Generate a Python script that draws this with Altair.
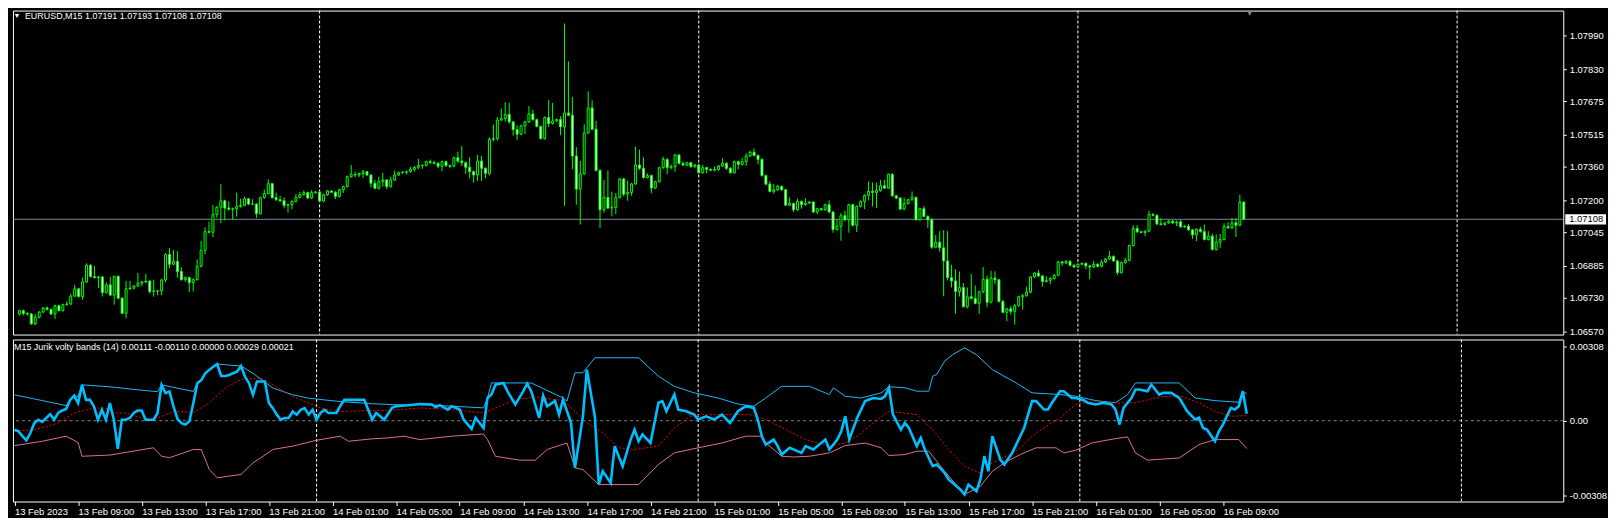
import altair as alt
import pandas as pd

# ---------------- data ----------------
SYMBOL = "EURUSD,M15"
INDICATOR = "M15 Jurik volty bands (14)"
INDICATOR_VALUES = "0.00111 -0.00110 0.00000 0.00029 0.00021"

# prices in points above 1.00000 (1 point = 0.00001)
first_open_pts = 6653
close_pts = [
    6669, 6656, 6653, 6605, 6637, 6662, 6682, 6675, 6653, 6693,
    6669, 6698, 6701, 6739, 6774, 6737, 6807, 6887, 6833, 6828,
    6831, 6756, 6793, 6744, 6834, 6729, 6656, 6774, 6777, 6788,
    6801, 6807, 6811, 6761, 6764, 6764, 6817, 6939, 6892, 6906,
    6857, 6818, 6828, 6804, 6818, 6882, 6959, 7049, 7046, 7131,
    7166, 7197, 7162, 7156, 7159, 7169, 7175, 7207, 7181, 7181,
    7135, 7212, 7232, 7279, 7212, 7202, 7197, 7175, 7178, 7194,
    7213, 7226, 7236, 7210, 7236, 7239, 7196, 7226, 7244, 7238,
    7218, 7250, 7265, 7313, 7324, 7321, 7328, 7337, 7321, 7281,
    7257, 7289, 7297, 7265, 7297, 7321, 7332, 7334, 7337, 7348,
    7358, 7366, 7367, 7385, 7380, 7377, 7363, 7385, 7366, 7363,
    7404, 7388, 7380, 7358, 7337, 7321, 7388, 7353, 7329, 7492,
    7496, 7585, 7592, 7612, 7576, 7539, 7517, 7557, 7576, 7614,
    7587, 7554, 7496, 7597, 7568, 7581, 7587, 7552, 7619, 7608,
    7412, 7253, 7326, 7523, 7643, 7541, 7343, 7154, 7213, 7162,
    7165, 7213, 7302, 7229, 7237, 7278, 7369, 7353, 7309, 7318,
    7258, 7289, 7356, 7396, 7356, 7361, 7417, 7377, 7369, 7380,
    7361, 7369, 7332, 7356, 7348, 7344, 7347, 7364, 7377, 7353,
    7332, 7385, 7372, 7385, 7412, 7430, 7415, 7396, 7318, 7277,
    7242, 7250, 7266, 7250, 7176, 7184, 7154, 7194, 7178, 7186,
    7191, 7143, 7159, 7154, 7178, 7143, 7059, 7075, 7125, 7106,
    7178, 7079, 7170, 7194, 7223, 7242, 7237, 7246, 7269, 7258,
    7324, 7221, 7210, 7157, 7184, 7202, 7213, 7106, 7159, 7122,
    7106, 6974, 6998, 6971, 6908, 6828, 6812, 6761, 6780, 6688,
    6736, 6728, 6704, 6760, 6820, 6709, 6826, 6817, 6713, 6661,
    6678, 6666, 6693, 6736, 6741, 6758, 6831, 6850, 6836, 6809,
    6815, 6823, 6839, 6903, 6898, 6906, 6887, 6879, 6892, 6896,
    6884, 6879, 6892, 6882, 6903, 6917, 6930, 6908, 6852, 6900,
    6911, 6982, 7064, 7048, 7045, 7051, 7131, 7127, 7086, 7083,
    7091, 7099, 7091, 7096, 7072, 7075, 7057, 7033, 7060, 7049,
    7011, 7027, 6963, 6998, 7011, 7073, 7067, 7091, 7080, 7191, 7108,
]
# wick length above / below the body, in points
wick_up_pts = [
    5, 5, 5, 5, 15, 5, 5, 8, 5, 5,
    5, 5, 13, 10, 18, 5, 21, 10, 5, 50,
    5, 5, 11, 38, 3, 4, 5, 38, 35, 5,
    49, 5, 35, 5, 54, 5, 5, 6, 30, 54,
    49, 21, 5, 5, 5, 33, 45, 21, 48, 45,
    5, 80, 5, 32, 5, 67, 32, 10, 2, 24,
    5, 5, 19, 21, 4, 24, 18, 16, 5, 5,
    16, 13, 11, 5, 13, 5, 5, 5, 5, 5,
    5, 5, 5, 5, 45, 13, 5, 8, 3, 5,
    16, 24, 35, 5, 16, 21, 5, 5, 5, 13,
    5, 32, 5, 5, 10, 10, 5, 5, 5, 5,
    5, 29, 72, 5, 48, 5, 29, 24, 5, 10,
    67, 15, 48, 59, 56, 5, 21, 5, 5, 38,
    21, 5, 5, 5, 84, 86, 5, 16, 430, 248,
    88, 43, 62, 41, 80, 37, 40, 5, 84, 129,
    76, 21, 5, 5, 57, 5, 88, 74, 53, 11,
    5, 5, 5, 13, 5, 11, 5, 5, 8, 5,
    5, 5, 5, 13, 5, 5, 16, 5, 24, 5,
    5, 5, 5, 19, 13, 8, 18, 5, 5, 5,
    14, 27, 8, 5, 5, 29, 5, 13, 5, 24,
    5, 5, 5, 5, 5, 21, 5, 32, 13, 24,
    5, 5, 5, 5, 5, 48, 43, 38, 29, 29,
    5, 5, 5, 5, 29, 5, 29, 5, 5, 13,
    5, 8, 34, 53, 85, 144, 61, 56, 77, 22,
    45, 110, 62, 5, 59, 18, 34, 32, 5, 8,
    5, 14, 8, 5, 8, 26, 5, 5, 14, 5,
    19, 8, 5, 5, 5, 6, 5, 5, 5, 5,
    5, 5, 16, 5, 11, 5, 26, 5, 5, 5,
    13, 5, 16, 16, 5, 5, 19, 8, 5, 27,
    5, 5, 5, 6, 10, 5, 11, 5, 5, 11,
    34, 24, 13, 37, 27, 16, 21, 24, 24, 35, 2,
]
wick_dn_pts = [
    8, 10, 8, 3, 5, 5, 5, 5, 5, 24,
    5, 5, 5, 5, 5, 5, 16, 5, 5, 5,
    50, 19, 5, 5, 46, 5, 3, 24, 5, 5,
    5, 15, 5, 10, 25, 21, 21, 11, 19, 5,
    29, 5, 10, 45, 43, 5, 5, 19, 5, 24,
    16, 76, 60, 5, 48, 38, 5, 5, 5, 5,
    21, 5, 5, 5, 5, 5, 5, 14, 35, 21,
    5, 5, 5, 5, 5, 5, 5, 5, 5, 3,
    13, 5, 16, 5, 5, 10, 10, 22, 5, 21,
    5, 5, 24, 13, 5, 5, 5, 5, 10, 5,
    10, 10, 16, 5, 5, 5, 10, 24, 5, 10,
    5, 10, 16, 32, 32, 37, 29, 60, 24, 10,
    10, 10, 5, 15, 10, 29, 29, 5, 40, 5,
    5, 5, 5, 5, 16, 5, 5, 40, 379, 5,
    64, 75, 170, 5, 5, 5, 5, 88, 14, 5,
    40, 32, 5, 11, 32, 16, 5, 8, 6, 5,
    24, 5, 5, 5, 32, 8, 24, 5, 5, 5,
    5, 5, 5, 5, 19, 5, 5, 5, 5, 8,
    5, 5, 24, 5, 21, 5, 5, 24, 5, 6,
    5, 11, 5, 5, 5, 5, 11, 5, 19, 5,
    5, 5, 10, 5, 5, 5, 16, 5, 70, 8,
    62, 5, 32, 5, 37, 24, 67, 75, 5, 5,
    5, 5, 5, 5, 5, 5, 5, 5, 5, 5,
    40, 8, 5, 19, 170, 13, 32, 106, 24, 3,
    8, 5, 5, 51, 8, 24, 5, 21, 5, 5,
    43, 16, 64, 5, 61, 5, 5, 5, 5, 24,
    5, 19, 5, 5, 14, 5, 5, 5, 5, 5,
    16, 59, 5, 5, 5, 5, 5, 5, 11, 5,
    5, 5, 5, 5, 5, 19, 5, 5, 5, 5,
    5, 5, 5, 16, 5, 5, 5, 19, 30, 5,
    5, 5, 5, 5, 29, 5, 5, 5, 57, 5, 0,
]

# indicator buffers: (bar index, value in units of 0.00001)
main_pts = [
    (0, -37), (1, -44), (2, -64), (3, -81), (4, -51), (5, -10), (6, 4), (7, -5), (8, 11), (9, 27),
    (10, 4), (11, 32), (12, 42), (13, 48), (14, 86), (15, 103), (16, 73), (17, 148), (18, 86), (19, 86),
    (20, 59), (21, 4), (22, 45), (23, 4), (24, 73), (25, 4), (26, -116), (27, 4), (28, 4), (29, 11),
    (30, 32), (31, 42), (32, 42), (33, 4), (34, 4), (35, 4), (36, 32), (37, 148), (38, 114), (39, 121),
    (40, 59), (41, 8), (42, -10), (43, -16), (44, -2), (45, 73), (46, 155), (47, 168), (48, 196), (49, 210),
    (50, 223), (51, 234), (52, 185), (53, 185), (54, 189), (55, 196), (56, 203), (57, 226), (58, 182), (59, 155),
    (60, 107), (61, 162), (62, 162), (63, 162), (64, 73), (65, 52), (66, 25), (67, 4), (68, 11), (69, 11),
    (70, 38), (71, 25), (72, 45), (73, 52), (74, 25), (75, 45), (76, 4), (77, 32), (78, 45), (79, 32),
    (80, 32), (81, 32), (82, 62), (83, 86), (84, 86), (85, 86), (86, 86), (87, 86), (88, 86), (89, 45),
    (90, 4), (91, 32), (92, 18), (93, 4), (95, 53), (96, 60), (99, 64), (102, 69), (105, 67), (106, 56),
    (107, 64), (109, 46), (110, 60), (112, 46), (113, 5), (115, -34), (116, 12), (118, -30), (119, 94), (120, 108),
    (121, 149), (123, 156), (124, 122), (126, 67), (128, 122), (129, 153), (130, 122), (132, 12), (133, 104), (134, 60),
    (136, 81), (137, 25), (138, 87), (140, -9), (141, -195), (143, 18), (144, 211), (146, 18), (147, -264), (148, -209),
    (150, -257), (151, -105), (153, -188), (155, -78), (156, -37), (157, -85), (158, -57), (160, -92), (162, 74), (163, 81),
    (164, 39), (166, 108), (167, 46), (169, 39), (171, 25), (172, 5), (174, 18), (176, 5), (178, 25), (180, -9),
    (182, 39), (184, 60), (186, 53), (187, 5), (188, -64), (189, -99), (191, -78), (192, -105), (193, -140), (195, -112),
    (198, -133), (199, -105), (201, -119), (202, -105), (204, -78), (205, -119), (207, -78), (208, -44), (209, 18), (210, -78),
    (212, 12), (214, 81), (216, 94), (218, 90), (219, 101), (220, 136), (221, 25), (223, -37), (224, -9), (225, -30),
    (227, -105), (228, -71), (229, -119), (231, -188), (232, -181), (234, -216), (235, -243), (236, -257), (238, -285), (239, -305),
    (240, -264), (242, -292), (243, -243), (244, -147), (245, -209), (246, -64), (248, -161), (249, -181), (251, -133), (253, -64),
    (254, -30), (256, 81), (257, 81), (259, 46), (260, 46), (261, 74), (263, 122), (264, 122), (266, 94), (267, 94),
    (269, 85), (270, 74), (272, 67), (274, 74), (276, 67), (277, 46), (278, -16), (279, 53), (281, 94), (282, 129),
    (283, 129), (285, 122), (286, 149), (288, 108), (289, 115), (291, 115), (293, 94), (295, 39), (297, 5), (298, 12),
    (299, -30), (300, -37), (302, -85), (303, -44), (304, -16), (306, 53), (307, 46), (308, 60), (309, 122), (310, 29),
]
upper_pts = [
    (0, 107), (12, 66), (13, 62), (14, 86), (15, 103), (16, 100), (17, 148), (24, 140), (32, 126), (36, 120),
    (37, 148), (45, 121), (46, 155), (47, 168), (48, 196), (49, 210), (50, 223), (51, 234), (57, 226), (60, 196),
    (65, 135), (70, 107), (74, 93), (82, 79), (90, 70), (99, 64), (102, 67), (118, 53), (119, 94), (120, 156),
    (130, 156), (138, 94), (139, 81), (141, 198), (143, 198), (146, 260), (157, 260), (162, 184), (166, 142), (171, 115),
    (177, 94), (182, 69), (186, 60), (189, 94), (193, 142), (200, 142), (205, 108), (206, 136), (209, 101), (213, 94),
    (218, 115), (220, 140), (224, 136), (227, 122), (230, 122), (231, 184), (232, 191), (234, 246), (236, 273), (239, 301),
    (242, 273), (246, 211), (252, 156), (256, 115), (263, 108), (267, 101), (272, 83), (277, 74), (280, 108), (282, 156),
    (293, 156), (297, 94), (302, 83), (308, 76), (309, 122), (310, 111),
]
lower_pts = [
    (0, -103), (7, -85), (13, -64), (16, -90), (17, -147), (24, -142), (35, -112), (37, -147), (39, -153), (45, -119),
    (47, -119), (49, -201), (51, -236), (57, -222), (60, -174), (62, -153), (65, -119), (70, -105), (76, -81), (82, -64),
    (84, -85), (90, -75), (94, -71), (98, -64), (102, -78), (110, -64), (118, -55), (119, -78), (121, -147), (127, -163),
    (131, -163), (134, -119), (139, -92), (141, -195), (143, -202), (147, -264), (157, -264), (162, -181), (166, -133), (172, -112),
    (178, -92), (184, -64), (188, -64), (189, -92), (193, -147), (196, -150), (200, -147), (205, -133), (209, -103), (214, -92),
    (218, -112), (220, -144), (224, -140), (227, -126), (230, -126), (231, -147), (234, -209), (239, -305), (243, -271), (246, -209),
    (249, -174), (253, -140), (257, -112), (262, -112), (264, -133), (267, -122), (271, -92), (277, -74), (280, -67), (282, -133),
    (285, -163), (293, -154), (298, -99), (302, -78), (308, -78), (310, -115),
]
signal_pts = [
    (0, -44), (5, -37), (11, -10), (15, 32), (20, 52), (23, 52), (25, 32), (28, 32), (32, 11), (35, 4),
    (40, 38), (45, 34), (49, 73), (53, 134), (57, 171), (62, 175), (65, 148), (70, 100), (74, 73), (78, 48),
    (82, 38), (90, 42), (94, 42), (102, 53), (110, 46), (118, 32), (126, 87), (131, 98), (138, 83), (141, 39),
    (144, -9), (148, -50), (152, -112), (156, -119), (162, -105), (166, -30), (170, 18), (173, 25), (180, 25), (185, 25),
    (189, 5), (194, -37), (199, -78), (205, -105), (209, -92), (212, -64), (216, -9), (220, 39), (227, 25), (231, -37),
    (235, -119), (239, -188), (243, -216), (246, -174), (252, -126), (257, -50), (263, 12), (267, 67), (271, 81), (277, 74),
    (282, 74), (288, 98), (293, 104), (298, 74), (302, 39), (306, 18), (310, 21),
]

time_labels = ["13 Feb 2023", "13 Feb 09:00", "13 Feb 13:00", "13 Feb 17:00", "13 Feb 21:00",
               "14 Feb 01:00", "14 Feb 05:00", "14 Feb 09:00", "14 Feb 13:00", "14 Feb 17:00",
               "14 Feb 21:00", "15 Feb 01:00", "15 Feb 05:00", "15 Feb 09:00", "15 Feb 13:00",
               "15 Feb 17:00", "15 Feb 21:00", "16 Feb 01:00", "16 Feb 05:00", "16 Feb 09:00"]
time_label_bars = [0, 16, 32, 48, 64, 80, 96, 112, 128, 144, 160, 176, 192, 208, 224, 240, 256, 272, 288, 304]
day_sep_bars = [76, 172, 268, 364]
price_ticks = [1.07990, 1.07830, 1.07675, 1.07515, 1.07360, 1.07200, 1.07045, 1.06885, 1.06730, 1.06570]
ind_ticks = [308, 0, -308]
shift_marker_bar = 311.5

# ---------------- build tables ----------------
opens = [first_open_pts] + close_pts[:-1]
rows = []
for i, (o, c, u, d) in enumerate(zip(opens, close_pts, wick_up_pts, wick_dn_pts)):
    rows.append(dict(idx=i, open=1 + o / 1e5, close=1 + c / 1e5,
                     high=1 + (max(o, c) + u) / 1e5, low=1 + (min(o, c) - d) / 1e5,
                     bull=c >= o))
candles = pd.DataFrame(rows)
last = rows[-1]
bid = last["close"]
header = f"{SYMBOL}  {last['open']:.5f} {last['high']:.5f} {last['low']:.5f} {last['close']:.5f}"
ind_header = f"{INDICATOR} {INDICATOR_VALUES}"


def frame(pairs):
    return pd.DataFrame(pairs, columns=["idx", "v"])


main_df = frame(main_pts)
upper_df = frame(upper_pts)
lower_df = frame(lower_pts)
signal_df = frame(signal_pts)
sep_df = pd.DataFrame({"idx": day_sep_bars})

# ---------------- layout ----------------
W = 1560
H_TOP = 326
H_BOT = 163
FONT = "Liberation Sans"
LIME = "#00FF00"

xscale = alt.Scale(domain=[-0.375, 389.625], nice=False, zero=False)
X_none = alt.X("idx:Q", scale=xscale, axis=None)

price_scale = alt.Scale(domain=[1.065543, 1.081108], nice=False, zero=False)
price_axis = alt.Axis(orient="right", values=price_ticks, format=".5f", title=None,
                      tickSize=3, labelPadding=3, domain=False, grid=False)


def YP(field):
    return alt.Y(field, scale=price_scale, axis=price_axis, title=None)


seps_top = alt.Chart(sep_df).mark_rule(color="white", strokeDash=[3, 2], strokeWidth=1).encode(x=X_none)
bid_df = pd.DataFrame({"p": [bid], "t": [f"{bid:.5f}"]})
bid_line = alt.Chart(bid_df).mark_rule(color="#778899", strokeWidth=1).encode(y=YP("p:Q"))
wicks = alt.Chart(candles).mark_rule(color=LIME, strokeWidth=1).encode(
    x=X_none, y=YP("low:Q"), y2="high:Q")
bodies = alt.Chart(candles).mark_bar(size=2, stroke=LIME, strokeWidth=1).encode(
    x=X_none, y=YP("open:Q"), y2="close:Q",
    fill=alt.condition("datum.bull", alt.value("black"), alt.value("white")))
bid_box = alt.Chart(bid_df).mark_point(
    shape="M -1 -0.25 L 1 -0.25 L 1 0.25 L -1 0.25 Z", filled=True, color="white",
    opacity=1, size=41 * 41).encode(x=alt.value(W + 22.5), y=YP("p:Q"))
bid_txt = alt.Chart(bid_df).mark_text(align="left", baseline="middle", color="black",
                                      font=FONT, fontSize=9.5).encode(
    x=alt.value(W + 6), y=YP("p:Q"), text="t:N")
head_df = pd.DataFrame({"t": [header], "tri": ["▼"]})
head_txt = alt.Chart(head_df).mark_text(align="left", baseline="middle", color="white",
                                        font=FONT, fontSize=9).encode(
    x=alt.value(12), y=alt.value(5.5), text="t:N")
head_tri = alt.Chart(head_df).mark_text(align="center", baseline="middle", color="white",
                                        font=FONT, fontSize=7).encode(
    x=alt.value(4), y=alt.value(5.5), text="tri:N")
shift_df = pd.DataFrame({"idx": [shift_marker_bar]})
shift_mark = alt.Chart(shift_df).mark_point(shape="triangle-down", filled=True, color="#808080",
                                            opacity=1, size=28).encode(x=X_none, y=alt.value(3))

top = alt.layer(seps_top, bid_line, wicks, bodies, bid_box, bid_txt, head_txt, head_tri,
                shift_mark).properties(width=W, height=H_TOP)

# ---------------- indicator panel ----------------
label_js = "[" + ",".join(f"'{s}'" for s in time_labels) + "]"
x_axis = alt.Axis(values=time_label_bars, labelExpr=f"{label_js}[round(datum.value/16)]",
                  labelAlign="left", labelBaseline="top", labelPadding=1,
                  tickSize=4, labelOverlap=False, labelFlush=False, labelBound=False,
                  domain=False, grid=False, title=None)
X_bot = alt.X("idx:Q", scale=xscale, axis=x_axis, title=None)
ind_scale = alt.Scale(domain=[-334, 335.5], nice=False, zero=False)
ind_axis = alt.Axis(orient="right", values=ind_ticks, title=None, tickSize=3, labelPadding=3,
                    domain=False, grid=False,
                    labelExpr="datum.value == 0 ? '0.00' : (datum.value < 0 ? '-' : '') + format(abs(datum.value) / 100000, '.5f')")


def YI(field):
    return alt.Y(field, scale=ind_scale, axis=ind_axis, title=None)


zero_df = pd.DataFrame({"v": [0]})
zero_line = alt.Chart(zero_df).mark_rule(color="#808080", strokeDash=[3, 3], strokeWidth=1).encode(y=YI("v:Q"))
seps_bot = alt.Chart(sep_df).mark_rule(color="white", strokeDash=[3, 2], strokeWidth=1).encode(x=X_bot)
upper_line = alt.Chart(upper_df).mark_line(color="#1EB8F5", strokeWidth=1).encode(x=X_bot, y=YI("v:Q"))
lower_line = alt.Chart(lower_df).mark_line(color="#DB7093", strokeWidth=1).encode(x=X_bot, y=YI("v:Q"))
signal_line = alt.Chart(signal_df).mark_line(color="#FF0000", strokeWidth=1, strokeDash=[2, 2]).encode(
    x=X_bot, y=YI("v:Q"))
main_line = alt.Chart(main_df).mark_line(color="#00BFFF", strokeWidth=2.6).encode(x=X_bot, y=YI("v:Q"))
ind_txt_df = pd.DataFrame({"t": [ind_header]})
ind_txt = alt.Chart(ind_txt_df).mark_text(align="left", baseline="middle", color="white",
                                          font=FONT, fontSize=9).encode(
    x=alt.value(1), y=alt.value(8), text="t:N")

bottom = alt.layer(zero_line, seps_bot, upper_line, lower_line, signal_line, main_line,
                   ind_txt).properties(width=W, height=H_BOT)

chart = alt.vconcat(top, bottom, spacing=2, padding=0, background="black").configure_view(
    stroke="white", strokeWidth=1).configure_axis(
    labelColor="white", labelFont=FONT, labelFontSize=9.5, tickColor="white", domain=False, grid=False)

chart.save("out.html", embed_options={"renderer": "svg", "actions": False})
